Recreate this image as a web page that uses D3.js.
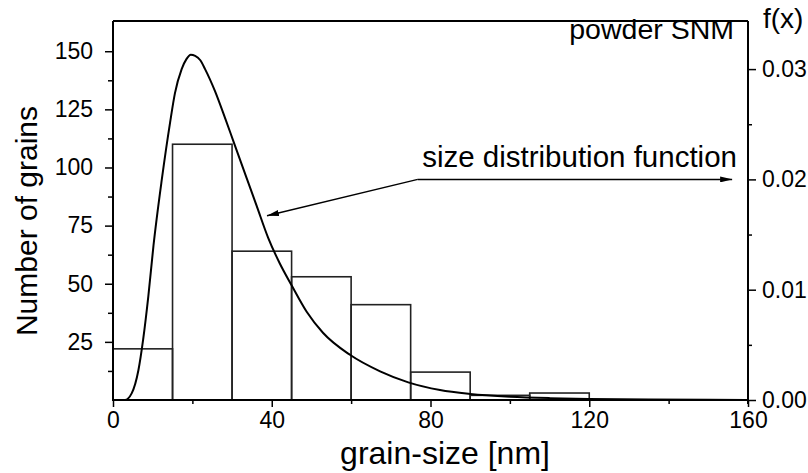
<!DOCTYPE html>
<html>
<head>
<meta charset="utf-8">
<script src="https://cdn.jsdelivr.net/npm/d3@7"></script>
<style>
  body { margin: 0; background: #fff; }
  svg text { font-family: "Liberation Sans", Arial, Helvetica, sans-serif; fill: #000; }
</style>
</head>
<body>
<div id="chart"></div>
<script>
// histogram bins (grain size in nm) and counts
const binStart = [0, 15, 30, 45, 60, 75, 90, 105];
const binCount = [22, 110, 64, 53, 41, 12, 2, 3];
const binWidth = 15;

// size distribution function
const curveX = [0, 3, 4.7, 6.4, 7.6, 8.9, 10.2, 12.3, 14.4, 15.6, 17.3, 18.5, 19.6, 20.7, 22, 23.2, 25.7, 28.2, 30.3, 33.7, 36.2, 39.1, 42, 45, 48.8, 52.9, 59.7, 67.3, 74.4, 82.4, 90, 100, 110, 120, 135, 150, 160];
const curveF = [0, 0, 0.0006, 0.0027, 0.0055, 0.0094, 0.0140, 0.0200, 0.0252, 0.0278, 0.0300, 0.0309, 0.0313, 0.0312, 0.0308, 0.0300, 0.0280, 0.0256, 0.0235, 0.0201, 0.0176, 0.0147, 0.0124, 0.0104, 0.0080, 0.0061, 0.0041, 0.0026, 0.0016, 0.0009, 0.00055, 0.0003, 0.00017, 0.0001, 0.00005, 0.00002, 0.00001];

// tick labels
const xTicks = [0, 40, 80, 120, 160];
const xMinor = [20, 60, 100, 140];
const yTicks = [25, 50, 75, 100, 125, 150];
const yMinor = [12.5, 37.5, 62.5, 87.5, 112.5, 137.5];
const fTicks = [0, 0.01, 0.02, 0.03];
const fMinor = [0.005, 0.015, 0.025];

const w = 808, h = 473;
const pLeft = 113, pRight = 748, pTop = 21, pBottom = 400;

const svg = d3.select("#chart").append("svg")
  .attr("width", w).attr("height", h);

const xScale = d3.scaleLinear().domain([0, 160]).range([pLeft, pRight]);
const yScale = d3.scaleLinear().domain([0, 163]).range([pBottom, pTop]);
const fScale = d3.scaleLinear().domain([0, 0.03436]).range([pBottom, pTop]);

// bars
svg.selectAll("rect.bar")
  .data(binStart)
  .enter()
  .append("rect")
  .attr("class", "bar")
  .attr("x", d => xScale(d))
  .attr("width", d => xScale(d + binWidth) - xScale(d))
  .attr("y", (d, i) => yScale(binCount[i]))
  .attr("height", (d, i) => yScale(0) - yScale(binCount[i]))
  .attr("fill", "none")
  .attr("stroke", "#222")
  .attr("stroke-width", 1.6);

// curve
const line = d3.line()
  .x(d => xScale(d[0]))
  .y(d => fScale(d[1]))
  .curve(d3.curveMonotoneX);

svg.append("path")
  .datum(curveX.map((x, i) => [x, curveF[i]]))
  .attr("d", line)
  .attr("fill", "none")
  .attr("stroke", "#000")
  .attr("stroke-width", 2);

// frame top
svg.append("line").attr("x1", pLeft).attr("x2", pRight).attr("y1", pTop).attr("y2", pTop)
  .attr("stroke", "#000").attr("stroke-width", 2);

// axes
function styleAxis(g) {
  g.select(".domain").attr("stroke-width", 2);
  g.selectAll(".tick line").attr("stroke-width", 1.5);
  g.selectAll("text").style("font-size", "23px").style("font-family", "Liberation Sans, Arial, sans-serif");
}

const xAxis = svg.append("g")
  .attr("transform", "translate(0," + pBottom + ")")
  .call(d3.axisBottom(xScale).tickValues(xTicks).tickSize(7).tickPadding(5).tickSizeOuter(0));
styleAxis(xAxis);
xAxis.select(".domain").attr("d", "M" + (pLeft - 1) + ",0H" + (pRight + 1));
svg.append("g")
  .attr("transform", "translate(0," + pBottom + ")")
  .call(d3.axisBottom(xScale).tickValues(xMinor).tickSize(4).tickFormat("").tickSizeOuter(0))
  .call(g => g.select(".domain").remove())
  .call(g => g.selectAll("line").attr("stroke-width", 1.5));

const yAxis = svg.append("g")
  .attr("transform", "translate(" + pLeft + ",0)")
  .call(d3.axisLeft(yScale).tickValues(yTicks).tickSize(8).tickPadding(12).tickSizeOuter(0));
styleAxis(yAxis);
yAxis.select(".domain").attr("d", "M0," + pTop + "V" + pBottom);
svg.append("g")
  .attr("transform", "translate(" + pLeft + ",0)")
  .call(d3.axisLeft(yScale).tickValues(yMinor).tickSize(5).tickFormat("").tickSizeOuter(0))
  .call(g => g.select(".domain").remove())
  .call(g => g.selectAll("line").attr("stroke-width", 1.5));

const fAxis = svg.append("g")
  .attr("transform", "translate(" + pRight + ",0)")
  .call(d3.axisRight(fScale).tickValues(fTicks).tickSize(8).tickPadding(6)
    .tickFormat(d3.format(".2f")).tickSizeOuter(0));
styleAxis(fAxis);
fAxis.select(".domain").attr("d", "M0," + pTop + "V" + (pBottom + 4));
svg.append("g")
  .attr("transform", "translate(" + pRight + ",0)")
  .call(d3.axisRight(fScale).tickValues(fMinor).tickSize(4).tickFormat("").tickSizeOuter(0))
  .call(g => g.select(".domain").remove())
  .call(g => g.selectAll("line").attr("stroke-width", 1.5));

// axis titles
svg.append("text")
  .attr("x", 445).attr("y", 464)
  .attr("text-anchor", "middle")
  .style("font-size", "32px")
  .text("grain-size [nm]");

svg.append("text")
  .attr("transform", "translate(37,221) rotate(-90)")
  .attr("text-anchor", "middle")
  .style("font-size", "30px")
  .text("Number of grains");

svg.append("text")
  .attr("x", 763).attr("y", 28)
  .style("font-size", "28px")
  .text("f(x)");

// annotations
svg.append("text")
  .attr("x", 734).attr("y", 39)
  .attr("text-anchor", "end")
  .style("font-size", "28.5px")
  .text("powder SNM");

svg.append("text")
  .attr("x", 737).attr("y", 167)
  .attr("text-anchor", "end")
  .style("font-size", "29.5px")
  .text("size distribution function");

const defs = svg.append("defs");
defs.append("marker")
  .attr("id", "head")
  .attr("viewBox", "0 0 12 6")
  .attr("refX", 12).attr("refY", 3)
  .attr("markerWidth", 12).attr("markerHeight", 6)
  .attr("markerUnits", "userSpaceOnUse")
  .attr("orient", "auto")
  .append("path")
  .attr("d", "M0,0L12,3L0,6Z")
  .attr("fill", "#000");

// arrow start point and the two targets (data coords)
const arrowFrom = [76.8, 0.0200];
const arrowToAxis = [156, 0.0200];
const arrowToCurve = [38.8, 0.0167];

svg.append("line")
  .attr("x1", xScale(arrowFrom[0])).attr("y1", fScale(arrowFrom[1]))
  .attr("x2", xScale(arrowToAxis[0])).attr("y2", fScale(arrowToAxis[1]))
  .attr("stroke", "#000").attr("stroke-width", 1.5)
  .attr("marker-end", "url(#head)");

svg.append("line")
  .attr("x1", xScale(arrowFrom[0])).attr("y1", fScale(arrowFrom[1]))
  .attr("x2", xScale(arrowToCurve[0])).attr("y2", fScale(arrowToCurve[1]))
  .attr("stroke", "#000").attr("stroke-width", 1.5)
  .attr("marker-end", "url(#head)");
</script>
</body>
</html>
